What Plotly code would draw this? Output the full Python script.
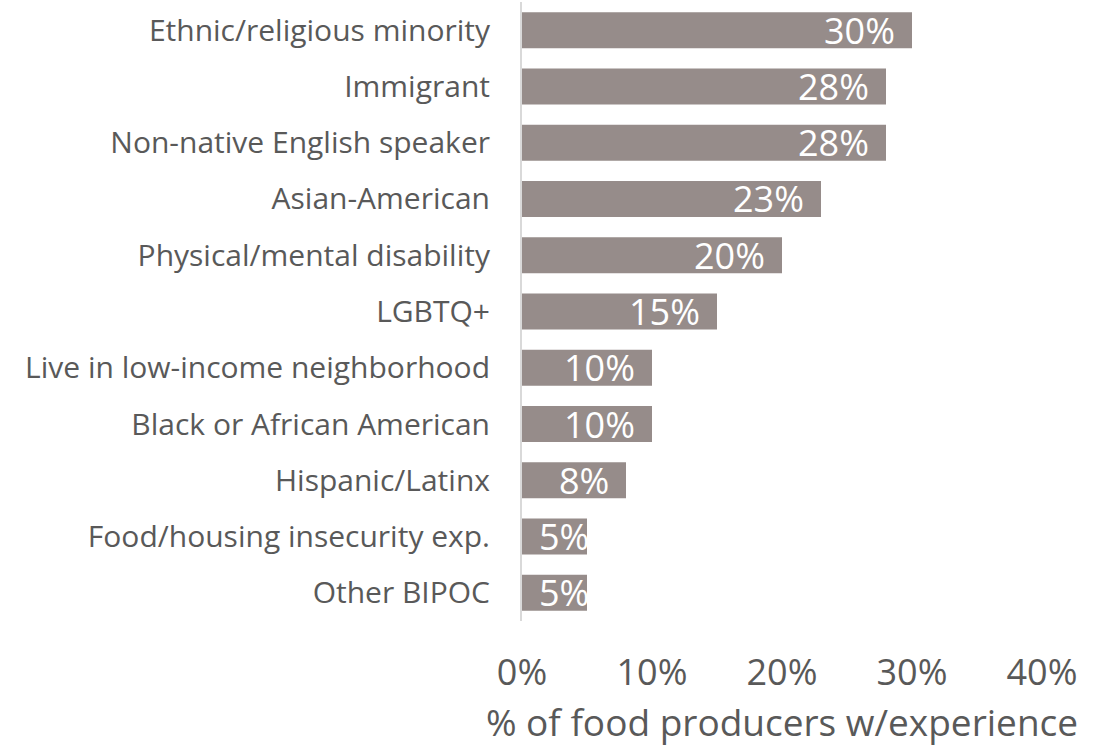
import plotly.graph_objects as go

categories = [
    "Ethnic/religious minority",
    "Immigrant",
    "Non-native English speaker",
    "Asian-American",
    "Physical/mental disability",
    "LGBTQ+",
    "Live in low-income neighborhood",
    "Black or African American",
    "Hispanic/Latinx",
    "Food/housing insecurity exp.",
    "Other BIPOC",
]
values = [30, 28, 28, 23, 20, 15, 10, 10, 8, 5, 5]
tick_vals = [0, 10, 20, 30, 40]
tick_text = ["0%", "10%", "20%", "30%", "40%"]

FONT = "Open Sans"
BAR_COLOR = "#968c8a"
TEXT_COLOR = "#595959"

fig = go.Figure(
    go.Bar(
        x=values,
        y=categories,
        orientation="h",
        marker=dict(color=BAR_COLOR, line=dict(width=0)),
        hoverinfo="skip",
    )
)

# value labels placed just inside the end of each bar
for cat, v in zip(categories, values):
    fig.add_annotation(
        x=v,
        y=cat,
        text=f"{v}%",
        showarrow=False,
        xanchor="right",
        yanchor="middle",
        xshift=-15 if v > 6 else 4,
        font=dict(family=FONT, size=36, color="white"),
    )

fig.update_layout(
    width=1112,
    height=750,
    margin=dict(l=522, r=70, t=2, b=129),
    paper_bgcolor="white",
    plot_bgcolor="white",
    bargap=0.36,
    showlegend=False,
    font=dict(family=FONT, color=TEXT_COLOR),
)

fig.update_xaxes(
    range=[0, 40],
    tickvals=tick_vals,
    ticktext=tick_text,
    tickfont=dict(family=FONT, size=36, color=TEXT_COLOR),
    ticks="",
    ticklabelstandoff=27,
    showgrid=False,
    zeroline=False,
    showline=False,
    title=dict(
        text="% of food producers w/experience",
        font=dict(family=FONT, size=37, color=TEXT_COLOR),
        standoff=2,
    ),
)

fig.update_yaxes(
    categoryorder="array",
    categoryarray=categories[::-1],
    tickfont=dict(family=FONT, size=30, color=TEXT_COLOR),
    ticks="",
    ticklabelstandoff=24,
    showgrid=False,
    zeroline=False,
    showline=True,
    linecolor="#d9d9d9",
    linewidth=2,
)

fig.write_html("out.html")
